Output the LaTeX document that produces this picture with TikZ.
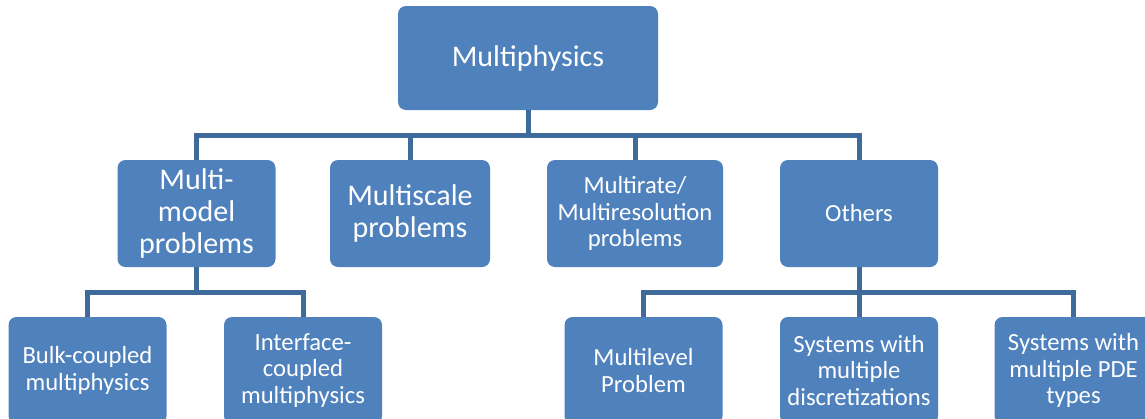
\documentclass[tikz,border=0pt]{standalone}
\usepackage{fontspec}
\setmainfont{Carlito}
\usepackage{tikz}
\usetikzlibrary{positioning}

\definecolor{boxblue}{RGB}{79,129,189}
\definecolor{linkblue}{RGB}{62,106,156}

\begin{document}
\begin{tikzpicture}[x=0.75pt, y=-0.75pt,
    box/.style={rectangle, rounded corners=6pt, fill=boxblue, text=white, align=center,
                inner sep=0pt, minimum width=118.5pt, minimum height=80.25pt},
    big/.style={font=\fontsize{22.5}{24}\selectfont},
    small/.style={font=\fontsize{18.5}{20}\selectfont},
    link/.style={draw=linkblue, line width=3.75pt}]

    \useasboundingbox (0,0) rectangle (1145,418);
    \clip (0,0) rectangle (1145,418);

    % oben
    \node[box, big, minimum width=195pt, minimum height=78pt] (mphys) at (528,58) {Multiphysics};

    % zweite Ebene
    \node[box, big] (mmodel) at (196.5,213.5) {Multi-\\model\\problems};
    \node[box, big, minimum width=120pt] (mscale) at (410,213.5) {Multiscale\\problems};
    \node[box, small, minimum width=132pt] (mrate) at (635,213.5) {Multirate/\\Multiresolution\\problems};
    \node[box, small] (others) at (859,213.5) {Others};

    % unten
    \node[box, small] (bulk) at (87.5,370.5) {Bulk-coupled\\multiphysics};
    \node[box, small] (iface) at (303,370.5) {Interface-\\coupled\\multiphysics};
    \node[box, small] (mlevel) at (643.5,370.5) {Multilevel\\Problem};
    \node[box, small] (sdisc) at (859,370.5) {Systems with\\multiple\\discretizations};
    \node[box, small] (spde) at (1073.5,370.5) {Systems with\\multiple PDE\\types};

    % Linien
    \draw[link] (mphys.south) -- ++(0,25) -| (mmodel.north);
    \draw[link] (mphys.south) -- ++(0,25) -| (mscale.north);
    \draw[link] (mphys.south) -- ++(0,25) -| (mrate.north);
    \draw[link] (mphys.south) -- ++(0,25) -| (others.north);

    \draw[link] (mmodel.south) -- ++(0,25) -| (bulk.north);
    \draw[link] (mmodel.south) -- ++(0,25) -| (iface.north);

    \draw[link] (others.south) -- ++(0,25) -| (mlevel.north);
    \draw[link] (others.south) -- ++(0,25) -| (sdisc.north);
    \draw[link] (others.south) -- ++(0,25) -| (spde.north);
\end{tikzpicture}
\end{document}
